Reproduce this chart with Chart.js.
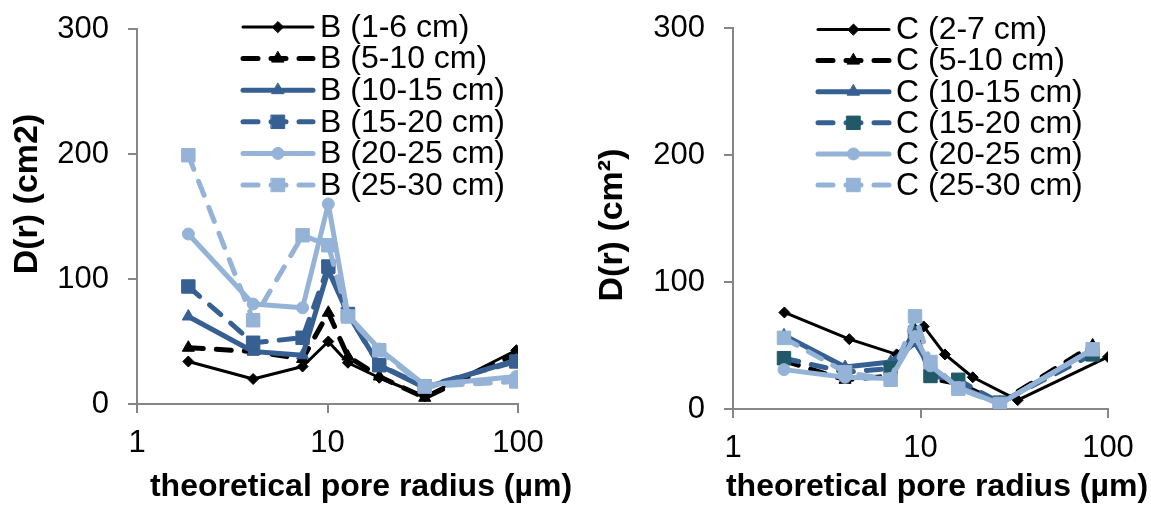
<!DOCTYPE html>
<html>
<head>
<meta charset="utf-8">
<script src="https://cdn.jsdelivr.net/npm/chart.js@4.4.0/dist/chart.umd.min.js"></script>
<style>
    html, body { margin: 0; padding: 0; background: #fff; }
    #wrap { position: relative; width: 1151px; height: 505px; overflow: hidden; }
    .box { position: absolute; top: 0; height: 505px; }
</style>
</head>
<body>
<div id="wrap">
    <div class="box" style="left:0;width:576px"><canvas id="chartB"></canvas></div>
    <div class="box" style="left:576px;width:575px"><canvas id="chartC"></canvas></div>
</div>
<script>
    // tick labels
    var xTicks = [1, 10, 100];
    var yTicks = [0, 100, 200, 300];

    // panel B
    var radiusB = [1.86, 4.07, 7.4, 10.1, 12.8, 18.7, 32.4, 98];
    var labelsB = ['B (1-6 cm)', 'B (5-10 cm)', 'B (10-15 cm)', 'B (15-20 cm)', 'B (20-25 cm)', 'B (25-30 cm)'];
    var b1_6   = [34, 20, 30, 50, 33, 21, 6, 43];
    var b5_10  = [45, 42, 36, 73, 38, 22, 5, 40];
    var b10_15 = [70, 42, 39, 107, 72, 31, 13, 35];
    var b15_20 = [94, 49, 53, 110, 72, 31, 14, 34];
    var b20_25 = [136, 80, 77, 160, 71, 44, 15, 22];
    var b25_30 = [199, 67, 135, 127, 70, 43, 14, 18];

    // panel C (first series sits on its own radii)
    var radiusC1 = [1.88, 4.17, 7.46, 10.4, 13.5, 19, 33, 100];
    var radiusC = [1.87, 3.96, 6.93, 9.35, 11.3, 15.9, 26.5, 82.8];
    var labelsC = ['C (2-7 cm)', 'C (5-10 cm)', 'C (10-15 cm)', 'C (15-20 cm)', 'C (20-25 cm)', 'C (25-30 cm)'];
    var c2_7   = [76, 55, 43, 65, 43, 25, 7, 41];
    var c5_10  = [38, 23, 26, 62, 24, 20, 5, 50];
    var c10_15 = [58, 33, 37, 52, 33, 18, 4, 47];
    var c15_20 = [40, 29, 32, 60, 26, 23, 5, 43];
    var c20_25 = [31, 25, 24, 57, 34, 17, 4, 47];
    var c25_30 = [56, 29, 23, 73, 37, 16, 4, 47];

    var FONT = "'Liberation Sans', Arial, sans-serif";
    var BLACK = '#000000';
    var DARK = '#376092';
    var LIGHT = '#95B3D7';
    var TEAL = '#215968';
    var AXIS = '#868686';
    var DASH = [15, 13];

    // line style per series, same order in both panels
    var styles = [
        { color: BLACK, width: 3, dash: [], point: 'rectRot', r: 5.5 },
        { color: BLACK, width: 5, dash: DASH, point: 'triangle', r: 7 },
        { color: DARK, width: 5, dash: [], point: 'triangle', r: 7 },
        { color: DARK, width: 5, dash: DASH, point: 'rect', r: 9.5 },
        { color: LIGHT, width: 5, dash: [], point: 'circle', r: 6 },
        { color: LIGHT, width: 5, dash: DASH, point: 'rect', r: 9.5 }
    ];

    function toPoints(xs, ys) {
        return ys.map(function(y, i) { return { x: xs[i], y: y }; });
    }

    function makeDataset(label, xs, ys, i, markerColor) {
        var s = styles[i];
        var mc = markerColor || s.color;
        return {
            label: label,
            data: toPoints(xs, ys),
            borderColor: s.color,
            borderWidth: s.width,
            borderDash: s.dash,
            borderCapStyle: 'round',
            borderJoinStyle: 'round',
            pointStyle: s.point,
            pointRadius: s.r,
            pointHoverRadius: s.r,
            pointBackgroundColor: mc,
            pointBorderColor: mc,
            pointBorderWidth: 1,
            tension: 0,
            fill: false,
            order: 6 - i
        };
    }

    // legend and axis titles drawn by hand, Excel style
    var decor = {
        id: 'decor',
        afterDraw: function(chart, args, o) {
            var ctx = chart.ctx;
            ctx.save();
            ctx.textBaseline = 'middle';
            ctx.textAlign = 'left';
            ctx.font = o.legendSize + 'px ' + FONT;
            chart.data.datasets.forEach(function(ds, i) {
                var y = o.rowY + i * o.rowStep;
                ctx.save();
                ctx.strokeStyle = ds.borderColor;
                ctx.lineWidth = ds.borderWidth;
                ctx.lineCap = 'round';
                ctx.setLineDash(ds.borderDash);
                ctx.beginPath();
                ctx.moveTo(o.lineX0, y);
                ctx.lineTo(o.lineX1, y);
                ctx.stroke();
                ctx.setLineDash([]);
                ctx.fillStyle = ds.pointBackgroundColor;
                ctx.strokeStyle = ds.pointBorderColor;
                ctx.lineWidth = 1;
                Chart.helpers.drawPoint(ctx, {
                    pointStyle: ds.pointStyle, radius: ds.pointRadius, rotation: 0, borderWidth: 1
                }, (o.lineX0 + o.lineX1) / 2, y);
                ctx.restore();
                ctx.fillStyle = '#000';
                ctx.fillText(ds.label, o.textX, y + 1);
            });

            ctx.fillStyle = '#000';
            ctx.font = 'bold ' + o.titleSize + 'px ' + FONT;
            ctx.textBaseline = 'alphabetic';
            ctx.textAlign = 'center';
            ctx.fillText('theoretical pore radius (µm)', o.xTitleX, o.xTitleY);

            ctx.font = 'bold ' + o.yTitleSize + 'px ' + FONT;
            ctx.translate(o.yTitleX, o.yTitleY);
            ctx.rotate(-Math.PI / 2);
            ctx.fillText(o.yTitle, 0, 0);
            ctx.restore();
        }
    };

    function makeScales(yWidth, xHeight) {
        return {
            x: {
                type: 'logarithmic',
                min: 1,
                max: 100,
                afterBuildTicks: function(s) {
                    s.ticks = xTicks.map(function(v) { return { value: v }; });
                },
                afterFit: function(s) {
                    s.height = xHeight;
                    s.paddingLeft = 0;
                    s.paddingRight = 0;
                },
                ticks: {
                    autoSkip: false,
                    maxRotation: 0,
                    padding: 12,
                    color: '#000',
                    font: { family: FONT, size: 31 },
                    callback: function(v) { return String(v); }
                },
                grid: { drawOnChartArea: false, drawTicks: true, tickLength: 9, color: AXIS, lineWidth: 2 },
                border: { display: true, color: AXIS, width: 2 }
            },
            y: {
                min: 0,
                max: 300,
                afterBuildTicks: function(s) {
                    s.ticks = yTicks.map(function(v) { return { value: v }; });
                },
                afterFit: function(s) {
                    s.width = yWidth;
                    s.paddingTop = 0;
                    s.paddingBottom = 0;
                },
                ticks: {
                    padding: 19,
                    color: '#000',
                    font: { family: FONT, size: 31 }
                },
                grid: { drawOnChartArea: false, drawTicks: true, tickLength: 9, color: AXIS, lineWidth: 2 },
                border: { display: true, color: AXIS, width: 2 }
            }
        };
    }

    function makeChart(id, datasets, layoutPad, yWidth, xHeight, decorOpts) {
        return new Chart(document.getElementById(id), {
            type: 'line',
            data: { datasets: datasets },
            options: {
                responsive: true,
                maintainAspectRatio: false,
                animation: false,
                devicePixelRatio: 1,
                layout: { padding: layoutPad },
                scales: makeScales(yWidth, xHeight),
                plugins: {
                    legend: { display: false },
                    tooltip: { enabled: false },
                    decor: decorOpts
                }
            },
            plugins: [decor]
        });
    }

    var dataB = [b1_6, b5_10, b10_15, b15_20, b20_25, b25_30];
    var setsB = dataB.map(function(ys, i) {
        return makeDataset(labelsB[i], radiusB, ys, i);
    });
    makeChart('chartB', setsB, { left: 0, right: 58, top: 29, bottom: 0 }, 137, 101, {
        legendSize: 32, rowY: 27, rowStep: 31.6,
        lineX0: 243, lineX1: 313, textX: 320,
        titleSize: 32, xTitleX: 361, xTitleY: 496,
        yTitleSize: 34, yTitleX: 37, yTitleY: 194, yTitle: 'D(r) (cm2)'
    });

    var dataC = [c2_7, c5_10, c10_15, c15_20, c20_25, c25_30];
    var setsC = dataC.map(function(ys, i) {
        return makeDataset(labelsC[i], i === 0 ? radiusC1 : radiusC, ys, i, i === 3 ? TEAL : null);
    });
    makeChart('chartC', setsC, { left: 0, right: 43, top: 28, bottom: 0 }, 157, 96, {
        legendSize: 32, rowY: 29.5, rowStep: 31.1,
        lineX0: 242, lineX1: 313, textX: 320,
        titleSize: 32, xTitleX: 361, xTitleY: 496,
        yTitleSize: 34, yTitleX: 46, yTitleY: 225, yTitle: 'D(r) (cm²)'
    });
</script>
</body>
</html>
